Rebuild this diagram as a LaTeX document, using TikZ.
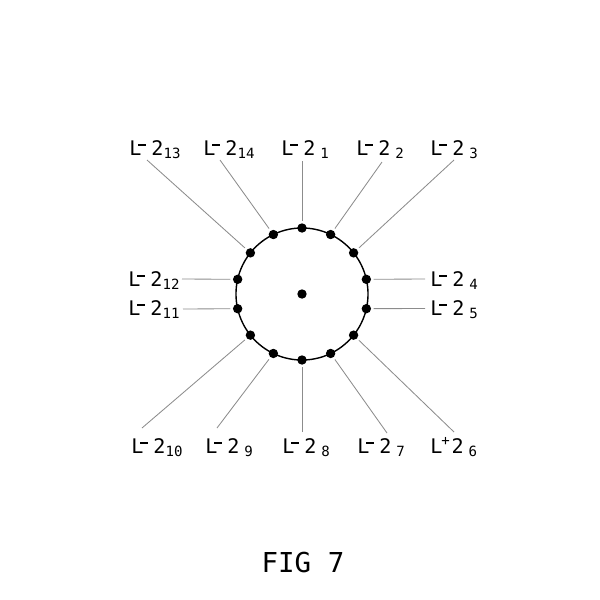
\documentclass[tikz,border=0pt]{standalone}
\usepackage{fontspec}
\usepackage{tikz}
\usetikzlibrary{positioning}
\newfontfamily\labfont{DejaVu Sans Mono}
\newcommand{\mn}{\kern-0.15em\raisebox{0.47em}{\rule{0.4em}{0.08em}}\kern0.25em}
\newcommand{\pl}{\kern-0.05em\textsuperscript{+}\kern0.05em}
\newcommand{\lbl}[2]{L#12\textsubscript{#2}}
\newcommand{\pad}{\hspace{0.35em}}
\tikzset{
  dot/.style={circle,fill=black,inner sep=0pt,minimum size=0.235cm},
  lab/.style={anchor=base west,inner sep=0pt,font=\labfont\fontsize{14.3pt}{16pt}\selectfont},
  lead/.style={draw=black!45,line width=0.6pt,shorten >=0.06cm}
}
\begin{document}
\begin{tikzpicture}[x=0.025cm,y=-0.025cm]
      \useasboundingbox (0,0) rectangle (600,600);
      \node[dot] (c) at (302,294) {};
      \draw[line width=1pt] (c) circle[radius=1.65cm];
      \foreach \i in {1,...,14}
        \node[dot] (d\i) at ({302+66*cos(90-(\i-1)*360/14)},{294-66*sin(90-(\i-1)*360/14)}) {};
      \foreach \n/\s/\t/\x/\y/\a/\b in {
          13/\mn/13/129/155/147/160, 14/\mn/14/203/155/220/160, 1/\mn/\pad1/281/155/302/161,
          2/\mn/\pad2/356/155/382/162, 3/\mn/\pad3/430/155/454/160,
          12/\mn/12/128/286.5/182/279, 11/\mn/11/128/315/183/309,
          4/\mn/\pad4/430/286.5/425/279, 5/\mn/\pad5/430/315/425/308.5,
          10/\mn/10/131/453/142/428, 9/\mn/\pad9/205/453/217/428, 8/\mn/\pad8/282/453/302/432,
          7/\mn/\pad7/357/453/387/433, 6/\pl/\pad6/430/453/454/432}{
        \node[lab] (l\n) at (\x,\y) {\lbl{\s}{\t}};
        \coordinate (s\n) at (\a,\b);
        \draw[lead] (s\n) -- (d\n);
      }
      \node[anchor=base,inner sep=0pt,font=\labfont\fontsize{19.5pt}{22pt}\selectfont] (fig) at (303,572) {FIG 7};
    \end{tikzpicture}
\end{document}
